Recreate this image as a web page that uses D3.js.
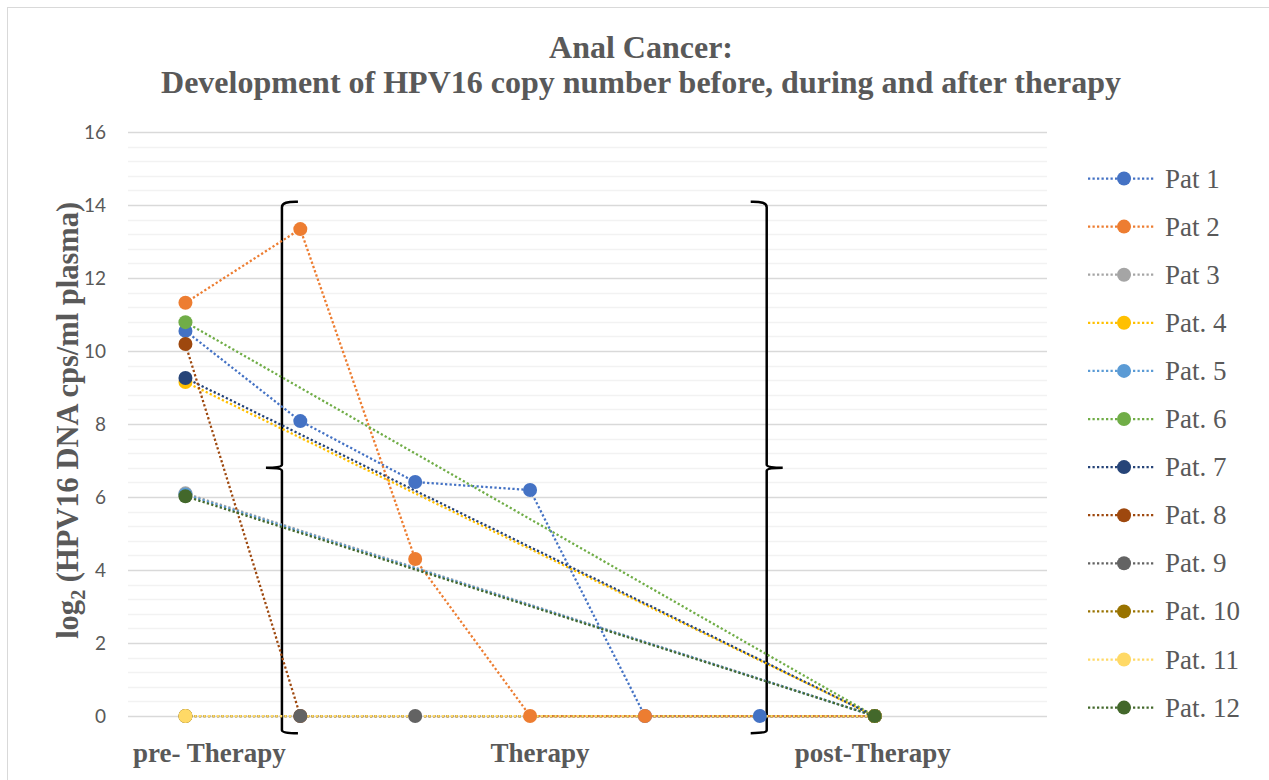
<!DOCTYPE html>
<html>
<head>
<meta charset="utf-8">
<script src="https://cdn.jsdelivr.net/npm/d3@7"></script>
<style>
  body { margin: 0; background: #fff; }
  svg { display: block; }
</style>
</head>
<body>
<div class="chart"></div>
<script>
// categories along x (8 slots, last one empty)
const categories = ["pre- Therapy", "", "", "Therapy", "", "", "post-Therapy", ""];
const patients = ["Pat 1", "Pat 2", "Pat 3", "Pat. 4", "Pat. 5", "Pat. 6",
                  "Pat. 7", "Pat. 8", "Pat. 9", "Pat. 10", "Pat. 11", "Pat. 12"];
const colors = ["#4472C4", "#ED7D31", "#A5A5A5", "#FFC000", "#5B9BD5", "#70AD47",
                "#264478", "#9E480E", "#636363", "#997300", "#FFD966", "#43682B"];

// log2 values per patient, null = no measurement (gap is bridged)
const pat1  = [10.55, 8.08, 6.41, 6.19, 0, 0, 0];
const pat2  = [11.32, 13.34, 4.30, 0, 0, null, 0];
const pat3  = [6.10, null, null, null, null, null, 0];
const pat4  = [9.15, null, null, null, null, null, 0];
const pat5  = [6.07, null, null, null, null, null, 0];
const pat6  = [10.79, null, null, null, null, null, 0];
const pat7  = [9.26, null, null, null, null, null, 0];
const pat8  = [10.19, 0, null, null, null, null, 0];
const pat9  = [0, 0, 0, null, null, null, 0];
const pat10 = [0, null, null, null, null, null, 0];
const pat11 = [0, null, null, null, null, null, 0];
const pat12 = [6.02, null, null, null, null, null, 0];
const series = [pat1, pat2, pat3, pat4, pat5, pat6, pat7, pat8, pat9, pat10, pat11, pat12];

const yTicks = [0, 2, 4, 6, 8, 10, 12, 14, 16];
const labelShift = [24, 0, 0, 10, 0, 0, -2, 0]; // Excel label centring quirks

const width = 1269;
const height = 780;
const svg = d3.select('.chart')
    .append('svg')
    .attr('width', width)
    .attr('height', height)

// chart frame
svg.append("rect")
    .attr("x", 7.5).attr("y", 7.5)
    .attr("width", 1280).attr("height", 800)
    .attr("fill", "#fff")
    .attr("stroke", "#d9d9d9")

const x = d3.scaleBand()
    .domain(d3.range(categories.length))
    .range([128, 1047])
    .paddingInner(0)
const xc = function(i) { return x(0) + x.bandwidth() * (i + 0.5); }

const y = d3.scaleLinear()
    .domain([0, 16])
    .range([716, 132])

// minor gridlines every 0.4
const minor = d3.range(0, 16.001, 0.4).filter(function(v) { return Math.abs(v / 2 - Math.round(v / 2)) > 0.01; });
svg.selectAll(".minor")
    .data(minor)
    .enter()
    .append("line")
    .attr("x1", 128).attr("x2", 1047)
    .attr("y1", function(d) { return Math.round(y(d)) + 0.5; })
    .attr("y2", function(d) { return Math.round(y(d)) + 0.5; })
    .attr("stroke", "#f2f2f2")
    .attr("stroke-width", 1.5)

svg.selectAll(".major")
    .data(yTicks)
    .enter()
    .append("line")
    .attr("x1", 128).attr("x2", 1047)
    .attr("y1", function(d) { return Math.round(y(d)) + 0.5; })
    .attr("y2", function(d) { return Math.round(y(d)) + 0.5; })
    .attr("stroke", "#d9d9d9")
    .attr("stroke-width", 1.5)

// y tick labels
svg.selectAll(".ytick")
    .data(yTicks)
    .enter()
    .append("text")
    .text(function(d) { return d; })
    .attr("x", 106)
    .attr("y", function(d) { return y(d) + 7; })
    .attr("text-anchor", "end")
    .attr("font-family", "Lato, 'Open Sans', sans-serif")
    .attr("font-size", 19)
    .attr("fill", "#595959")

// x labels
svg.selectAll(".xlab")
    .data(categories)
    .enter()
    .append("text")
    .text(function(d) { return d; })
    .attr("x", function(d, i) { return xc(i) + labelShift[i]; })
    .attr("y", 762)
    .attr("text-anchor", "middle")
    .attr("font-family", "'Liberation Serif', 'Times New Roman', serif")
    .attr("font-weight", "bold")
    .attr("font-size", 27)
    .attr("fill", "#595959")

// y axis title
const yTitle = svg.append("text")
    .attr("transform", "translate(78," + y(8.1) + ") rotate(-90)")
    .attr("text-anchor", "middle")
    .attr("font-family", "'Liberation Serif', 'Times New Roman', serif")
    .attr("font-weight", "bold")
    .attr("font-size", 30.5)
    .attr("fill", "#595959")
yTitle.append("tspan").text("log")
yTitle.append("tspan").text("2").attr("font-size", 20).attr("dy", 7)
yTitle.append("tspan").text(" (HPV16 DNA cps/ml plasma)").attr("dy", -7)

// title
const title = svg.append("text")
    .attr("text-anchor", "middle")
    .attr("font-family", "'Liberation Serif', 'Times New Roman', serif")
    .attr("font-weight", "bold")
    .attr("font-size", 32)
    .attr("fill", "#595959")
title.append("tspan").attr("x", 641).attr("y", 58).text("Anal Cancer:")
title.append("tspan").attr("x", 641).attr("y", 93).text("Development of HPV16 copy number before, during and after therapy")

// brackets around the therapy phase
function bracket(xi, dir) {
    const bx = xc(xi);
    const top = y(14.05), mid = y(6.8), bot = y(-0.47);
    const p = d3.path();
    p.moveTo(bx + dir * 16, top - 1.5);
    p.quadraticCurveTo(bx, top - 2, bx, top + 4);
    p.lineTo(bx, mid - 3);
    p.quadraticCurveTo(bx, mid, bx - dir * 16, mid);
    p.moveTo(bx - dir * 16, mid);
    p.quadraticCurveTo(bx, mid, bx, mid + 3);
    p.lineTo(bx, bot - 3);
    p.quadraticCurveTo(bx, bot, bx + dir * 16, bot);
    return p.toString();
}
svg.append("path").attr("d", bracket(0.84, 1)).attr("fill", "none").attr("stroke", "#000").attr("stroke-width", 2.5)
svg.append("path").attr("d", bracket(5.06, -1)).attr("fill", "none").attr("stroke", "#000").attr("stroke-width", 2.5)

const line = d3.line()
    .x(function(d) { return xc(d.i); })
    .y(function(d) { return y(d.v); })

const rows = series.map(function(s, k) {
    return s.map(function(v, i) { return { i: i, v: v, k: k }; })
            .filter(function(d) { return d.v !== null; });
});

// lines first, then markers, series by series
rows.forEach(function(r, k) {
    svg.append("path")
        .datum(r)
        .attr("d", line)
        .attr("fill", "none")
        .attr("stroke", colors[k])
        .attr("stroke-width", 2.25)
        .attr("stroke-dasharray", "2.25,2.25")
});
rows.forEach(function(r, k) {
    svg.selectAll(".m" + k)
        .data(r)
        .enter()
        .append("circle")
        .attr("cx", function(d) { return xc(d.i); })
        .attr("cy", function(d) { return y(d.v); })
        .attr("r", 7)
        .attr("fill", colors[k])
});

// legend
const legend = svg.selectAll(".leg")
    .data(patients)
    .enter()
    .append("g")
    .attr("transform", function(d, i) { return "translate(1088," + (178.5 + i * 48.1) + ")"; })
legend.append("line")
    .attr("x1", 0).attr("x2", 67)
    .attr("stroke", function(d, i) { return colors[i]; })
    .attr("stroke-width", 2.25)
    .attr("stroke-dasharray", "2.25,2.25")
legend.append("circle")
    .attr("cx", 36).attr("r", 7)
    .attr("fill", function(d, i) { return colors[i]; })
legend.append("text")
    .text(function(d) { return d; })
    .attr("x", 77)
    .attr("y", 9)
    .attr("font-family", "'Liberation Serif', 'Times New Roman', serif")
    .attr("font-size", 27)
    .attr("fill", "#595959")
</script>
</body>
</html>
